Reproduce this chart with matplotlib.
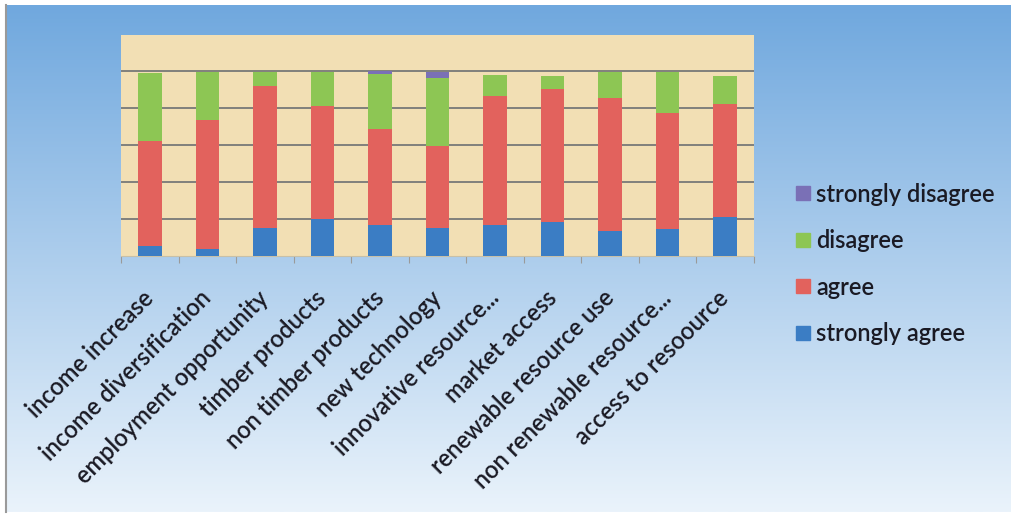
import matplotlib
matplotlib.use("Agg")
import matplotlib.pyplot as plt
import numpy as np
from matplotlib.lines import Line2D

categories = ["income increase", "income diversification", "employment opportunity",
              "timber products", "non timber products", "new technology",
              "innovative resource...", "market access", "renewable resource use",
              "non renewable resource...", "access to resoource"]
strongly_agree = [5.0, 3.8, 15.0, 19.8, 16.8, 15.0, 16.8, 18.2, 13.5, 14.6, 20.7]
agree = [57.3, 69.9, 77.2, 61.6, 51.9, 44.3, 69.9, 72.3, 71.9, 62.7, 61.4]
disagree = [36.7, 26.2, 7.6, 18.4, 30.0, 37.0, 11.4, 7.0, 14.5, 22.6, 15.4]
strongly_disagree = [0, 0, 0, 0, 1.3, 3.6, 0, 0, 0, 0, 0]

series = [("strongly agree", strongly_agree, "#3b7dc4"),
          ("agree", agree, "#e2625d"),
          ("disagree", disagree, "#8dc654"),
          ("strongly disagree", strongly_disagree, "#7a70b6")]

plt.rcParams['font.family'] = ['Lato', 'DejaVu Sans']

W, H = 1011, 517
fig = plt.figure(figsize=(W / 100, H / 100), dpi=100)
fig.patch.set_facecolor("white")

# background gradient panel
bg = fig.add_axes([0, 0, 1, 1], zorder=0)
bg.set_xlim(0, W)
bg.set_ylim(H, 0)
bg.axis("off")
top = np.array([0x70, 0xa8, 0xde]) / 255
bot = np.array([0xea, 0xf3, 0xfb]) / 255
t = np.linspace(0, 1, 256)[:, None]
grad = (top[None, :] * (1 - t) + bot[None, :] * t)[:, None, :]
bg.imshow(grad, extent=[6, W, 512, 5], aspect="auto", zorder=0)
bg.plot([5.5, 5.5], [5, 512], color="#9a9a9a", lw=1.5, zorder=1)

# plot area
x0, x1, y0, y1 = 121, 754, 34.5, 255.5
ax = fig.add_axes([x0 / W, 1 - y1 / H, (x1 - x0) / W, (y1 - y0) / H], zorder=2)
ax.set_facecolor("#f2dfb4")
n = len(categories)
x = np.arange(n)
bottom = np.zeros(n)
for name, vals, col in series:
    v = np.array(vals, dtype=float)
    ax.bar(x, v, bottom=bottom, width=0.41, color=col, zorder=3, label=name)
    bottom += v

ax.set_xlim(-0.5, n - 0.5)
ax.set_ylim(0, 120)
ax.set_yticks([20, 40, 60, 80, 100])
ax.yaxis.grid(True, color="#787878", lw=1.3, zorder=1)
ax.set_axisbelow(True)
ax.tick_params(axis="y", length=0, labelleft=False)
for s in ["top", "right", "left"]:
    ax.spines[s].set_visible(False)
ax.spines["bottom"].set_color("#c8c0a8")
ax.spines["bottom"].set_linewidth(0.8)

ax.set_xticks(x)
ax.set_xticklabels(categories, rotation=45, ha="right", va="center",
                   rotation_mode="anchor", fontsize=17, fontweight="semibold",
                   color="#1a1a24")
ax.tick_params(axis="x", length=0, pad=28)
ax.set_xticks(np.arange(n + 1) - 0.5, minor=True)
ax.tick_params(axis="x", which="minor", length=5, color="#9a9a9a", width=0.8)

order = ["strongly disagree", "disagree", "agree", "strongly agree"]
cols = {name: col for name, _, col in series}
lh = [Line2D([], [], marker="s", ls="none", markersize=10, color=cols[o]) for o in order]
fig.legend(lh, order, loc="upper left", bbox_to_anchor=(796 / W, 1 - 182.5 / H),
           frameon=False, handlelength=0.6, handletextpad=0.25,
           labelspacing=1.0, borderpad=0, borderaxespad=0,
           prop={"size": 17, "weight": "semibold"}, labelcolor="#1a1a24")

fig.savefig("out.png", dpi=100, facecolor="white")
